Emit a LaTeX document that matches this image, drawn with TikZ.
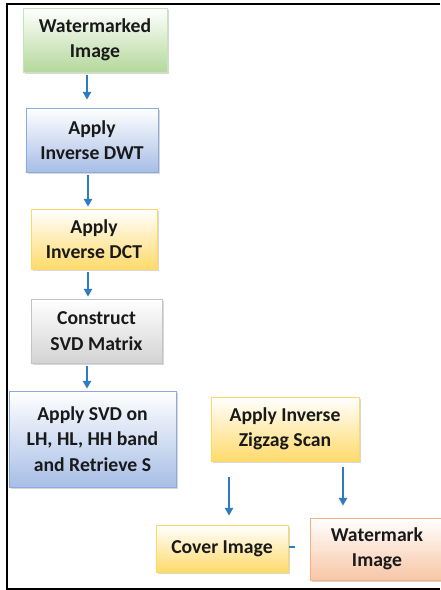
\documentclass[tikz,border=0pt]{standalone}
\usepackage{fontspec}
\setmainfont{Carlito}
\usepackage{xcolor}
\usetikzlibrary{arrows.meta,calc,shadows}

\definecolor{arrowblue}{HTML}{2E7BC4}
\definecolor{greenbox}{HTML}{B4D89B}
\definecolor{greenedge}{HTML}{C9E2B8}
\definecolor{bluebox}{HTML}{A7BEE6}
\definecolor{blueedge}{HTML}{8EA9DB}
\definecolor{yellowbox}{HTML}{FFDA6B}
\definecolor{yellowedge}{HTML}{FFD966}
\definecolor{graybox}{HTML}{D3D3D3}
\definecolor{grayedge}{HTML}{C4C4C4}
\definecolor{orangebox}{HTML}{F8C6A5}
\definecolor{orangeedge}{HTML}{F4B183}

\begin{document}
\begin{tikzpicture}[x=0.025cm, y=-0.025cm,
  box/.style={rectangle, inner sep=2pt, align=center,
    font=\fontsize{14}{18}\selectfont\bfseries, text=black!90,
    line width=0.6pt, top color=white,
    drop shadow={shadow xshift=1.4pt, shadow yshift=-1.6pt, fill=black!30}},
  greenstep/.style={box, draw=greenedge, bottom color=greenbox},
  bluestep/.style={box, draw=blueedge, bottom color=bluebox},
  yellowstep/.style={box, draw=yellowedge, bottom color=yellowbox},
  graystep/.style={box, draw=grayedge, bottom color=graybox},
  orangestep/.style={box, draw=orangeedge, bottom color=orangebox},
  flow/.style={-{Triangle[length=5.5pt, width=6pt]}, line width=1pt, arrowblue}]

\useasboundingbox (0,0) rectangle (440,590);

% Left column
\node[greenstep, minimum width=3.6cm, minimum height=1.6cm] (wmimg) at (95,40) {Watermarked\\Image};
\node[bluestep, minimum width=3.3cm, minimum height=1.6cm] (idwt) at (92,140) {Apply\\Inverse DWT};
\node[yellowstep, minimum width=3.15cm, minimum height=1.5cm] (idct) at (94,239) {Apply\\Inverse DCT};
\node[graystep, minimum width=3.275cm, minimum height=1.6cm] (svdm) at (96.5,331) {Construct\\SVD Matrix};
\node[bluestep, minimum width=4.175cm, minimum height=2.4cm] (svds) at (92.5,439) {Apply SVD on\\LH, HL, HH band\\and Retrieve S};

% Right part
\node[yellowstep, minimum width=3.7cm, minimum height=1.6cm] (izz) at (285,429) {Apply Inverse\\Zigzag Scan};
\node[yellowstep, minimum width=3.3cm, minimum height=1.175cm] (cover) at (222,548.5) {Cover Image};
\node[orangestep, minimum width=3.35cm, minimum height=1.55cm] (wmark) at (377,549) {Watermark\\Image};

% Arrows
\draw[flow] ($(wmimg.south)+(-8,3)$) -- ($(idwt.north)+(-5,-8)$);
\draw[flow] ($(idwt.south)+(-4,3)$) -- ($(idct.north)+(-6,-2)$);
\draw[flow] ($(idct.south)+(-6,3)$) -- ($(svdm.north)+(-8.5,-2)$);
\draw[flow] ($(svdm.south)+(-9.5,3)$) -- ($(svds.north)+(-5.5,-2)$);
\draw[flow] ($(izz.south)+(-56,16)$) -- ($(cover.north)+(7,-9)$);
\draw[flow] ($(izz.south)+(58,6)$) -- ($(wmark.north)+(-34,-12)$);
\draw[line width=1pt, arrowblue] ($(cover.east)+(1,-1.5)$) -- ++(6,0);

% Frame
\draw[line width=1.3pt] (440,4) -- (7,4) -- (7,589) -- (440,589);

\end{tikzpicture}
\end{document}
